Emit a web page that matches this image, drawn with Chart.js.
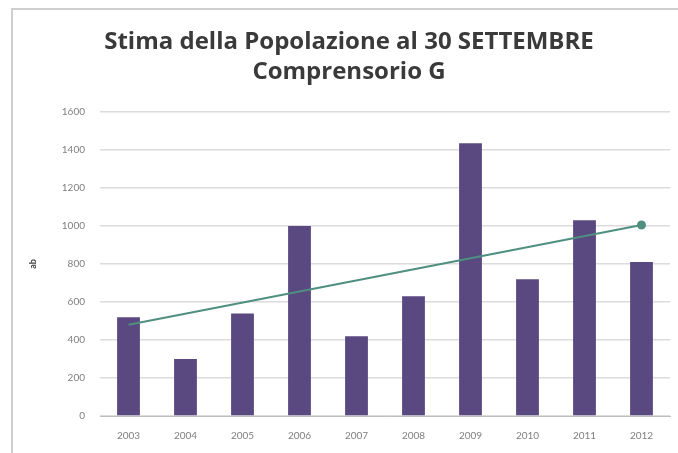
<!DOCTYPE html>
<html>
<head>
<meta charset="utf-8">
<script src="https://cdn.jsdelivr.net/npm/chart.js@4.4.0/dist/chart.umd.min.js"></script>
<style>
  html,body{margin:0;padding:0;background:#fff;}
  #wrap{position:relative;width:678px;height:453px;overflow:hidden;}
  #frame{position:absolute;left:11px;top:8px;width:700px;height:500px;border-left:2px solid #cfcfcf;border-top:2px solid #cfcfcf;}
  canvas{position:absolute;left:0;top:0;}
</style>
</head>
<body>
<div id="wrap">
  <div id="frame"></div>
  <canvas id="c" width="678" height="453"></canvas>
</div>
<script>
const titleLines = ["Stima della Popolazione al 30 SETTEMBRE", "Comprensorio G"];
const years = ["2003","2004","2005","2006","2007","2008","2009","2010","2011","2012"];
const population = [520, 300, 540, 1000, 420, 630, 1435, 720, 1030, 810];
const trend = [480, null, null, null, null, null, null, null, null, 1005];
const yTicks = [0, 200, 400, 600, 800, 1000, 1200, 1400, 1600];
const yTitle = "ab";

new Chart(document.getElementById('c'), {
  data: {
    labels: years,
    datasets: [
      {
        type: 'line',
        data: trend,
        spanGaps: true,
        borderColor: '#4f8f80',
        backgroundColor: '#4f8f80',
        borderWidth: 2,
        pointRadius: trend.map((v,i)=> i === trend.length-1 ? 3.5 : 0),
        pointHoverRadius: 0,
        order: 0
      },
      {
        type: 'bar',
        data: population,
        backgroundColor: '#5a4880',
        borderWidth: 0,
        barPercentage: 0.8,
        categoryPercentage: 0.5,
        order: 1
      }
    ]
  },
  options: {
    responsive: false,
    animation: false,
    layout: { padding: { left: 28, right: 8, top: 10, bottom: 0 } },
    plugins: {
      legend: { display: false },
      tooltip: { enabled: false },
      title: {
        display: true,
        text: titleLines,
        color: '#3a3a3a',
        font: { family: 'Open Sans', size: 24, weight: 'bold', lineHeight: 1.25 },
        padding: { top: 17, bottom: 25 }
      }
    },
    scales: {
      x: {
        afterFit: (s) => { s.height = 37; },
        grid: { display: false, drawTicks: false },
        border: { display: true, color: '#bfbfbf' },
        ticks: { color: '#7f7f7f', font: { family: 'Lato', size: 10 }, padding: 14 }
      },
      y: {
        min: 0, max: 1600,
        afterBuildTicks: (s) => { s.ticks = yTicks.map(v => ({ value: v })); },
        afterFit: (s) => { s.width = 72; },
        grid: { color: '#dcdcdc', lineWidth: 1.5, drawTicks: false },
        border: { display: false },
        ticks: { color: '#7f7f7f', font: { family: 'Lato', size: 10 }, padding: 15, callback: (v) => String(v) },
        title: { display: true, text: yTitle, color: '#404040', font: { family: 'Lato', size: 9, weight: 'bold' }, padding: 0 }
      }
    }
  }
});
</script>
</body>
</html>
